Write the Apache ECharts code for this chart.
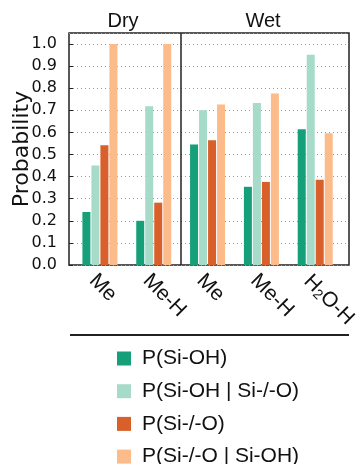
<!DOCTYPE html>
<html>
<head>
<meta charset="utf-8">
<script src="https://cdn.jsdelivr.net/npm/echarts@6/dist/echarts.min.js"></script>
<style>
  html, body { margin: 0; padding: 0; background: #fff; }
  #chart { width: 360px; height: 464px; }
</style>
</head>
<body>
<div id="chart"></div>
<script>
// categorias (Dry: Me, Me-H | Wet: Me, Me-H, H2O-H)
const categorias = ['Dry-Me', 'Dry-Me-H', 'Wet-Me', 'Wet-Me-H', 'Wet-H2O-H'];
const etiquetas = ['Me', 'Me-H', 'Me', 'Me-H', '{n|H}{s|2}{n|O-H}'];

const pSiOH = [0.24, 0.20, 0.545, 0.354, 0.614];
const pSiOHdadoO = [0.45, 0.718, 0.70, 0.733, 0.952];
const pSiO = [0.542, 0.282, 0.565, 0.376, 0.386];
const pSiOdadoOH = [1.0, 1.0, 0.726, 0.776, 0.596];

const nombres = ['P(Si-OH)', 'P(Si-OH | Si-/-O)', 'P(Si-/-O)', 'P(Si-/-O | Si-OH)'];
const colores = ['#16a079', '#a6dbc9', '#d9602a', '#fbbb8a'];

const fuente = "'Liberation Sans', Arial, sans-serif";
const fuenteEje = "'DejaVu Sans', sans-serif";

const chart = echarts.init(document.getElementById('chart'), null, { renderer: 'canvas' });

function serieBarra(nombre, datos, color) {
  return {
    name: nombre,
    type: 'bar',
    xAxisIndex: 1,
    yAxisIndex: 1,
    barWidth: 8,
    barGap: '12.5%',
    data: datos,
    itemStyle: { color: color },
    silent: true
  };
}

const option = {
  animation: false,
  grid: [
    // marco, eje y, lineas punteadas
    { left: 69, top: 33, width: 280, height: 232, show: true, borderColor: '#222', borderWidth: 1.5, backgroundColor: 'transparent' },
    // barras
    { left: 73, top: 33, width: 270, height: 232 }
  ],
  xAxis: [
    { type: 'value', gridIndex: 0, min: 0, max: 5, show: false },
    {
      type: 'category',
      gridIndex: 1,
      data: categorias,
      axisLine: { show: false },
      axisTick: { show: false },
      axisLabel: {
        rotate: -45,
        interval: 0,
        margin: 5,
        align: 'left',
        verticalAlign: 'top',
        fontSize: 21,
        fontFamily: fuente,
        color: '#111',
        formatter: function(v, i) { return etiquetas[i]; },
        rich: {
          n: { fontSize: 21, fontFamily: fuente, color: '#111', lineHeight: 23 },
          s: { fontSize: 14, fontFamily: fuente, color: '#111', lineHeight: 14, verticalAlign: 'bottom' }
        }
      }
    }
  ],
  yAxis: [
    {
      type: 'value',
      gridIndex: 0,
      min: 0,
      max: 1.05,
      interval: 0.1,
      name: 'Probability',
      nameLocation: 'middle',
      nameGap: 36,
      nameMoveOverlap: false,
      nameTextStyle: { fontSize: 22, fontFamily: fuenteEje, color: '#111' },
      axisLine: { show: false },
      axisTick: { show: true, inside: true, length: 4, lineStyle: { color: '#222', width: 1 } },
      axisLabel: {
        fontSize: 16,
        fontFamily: fuenteEje,
        color: '#111',
        margin: 12,
        formatter: function(v) { return v.toFixed(1); }
      },
      splitLine: { show: true, lineStyle: { type: [1, 3], color: '#999', width: 1 } }
    },
    { type: 'value', gridIndex: 1, min: 0, max: 1.05, show: false }
  ],
  legend: {
    data: nombres,
    orient: 'vertical',
    left: 117,
    top: 348,
    width: 240,
    height: 200,
    padding: 0,
    icon: 'rect',
    itemWidth: 14,
    itemHeight: 14,
    itemGap: 11.7,
    selectedMode: false,
    textStyle: { fontSize: 21, fontFamily: fuente, color: '#111', lineHeight: 20, padding: [0, 0, 0, 6] }
  },
  graphic: [
    { type: 'text', x: 123, y: 21, style: { text: 'Dry', fontSize: 20, fontFamily: fuente, fill: '#111', align: 'center', verticalAlign: 'middle' } },
    { type: 'text', x: 263, y: 21, style: { text: 'Wet', fontSize: 20, fontFamily: fuente, fill: '#111', align: 'center', verticalAlign: 'middle' } },
    { type: 'line', shape: { x1: 70, y1: 335, x2: 349, y2: 335 }, style: { stroke: '#222', lineWidth: 2 } }
  ],
  series: [
    // separador Dry | Wet
    {
      name: 'separador',
      type: 'line',
      xAxisIndex: 0,
      yAxisIndex: 0,
      data: [[2, 0], [2, 1.05]],
      showSymbol: false,
      silent: true,
      lineStyle: { color: '#222', width: 1.5 }
    },
    serieBarra(nombres[0], pSiOH, colores[0]),
    serieBarra(nombres[1], pSiOHdadoO, colores[1]),
    serieBarra(nombres[2], pSiO, colores[2]),
    serieBarra(nombres[3], pSiOdadoOH, colores[3])
  ]
};

chart.setOption(option);
</script>
</body>
</html>
